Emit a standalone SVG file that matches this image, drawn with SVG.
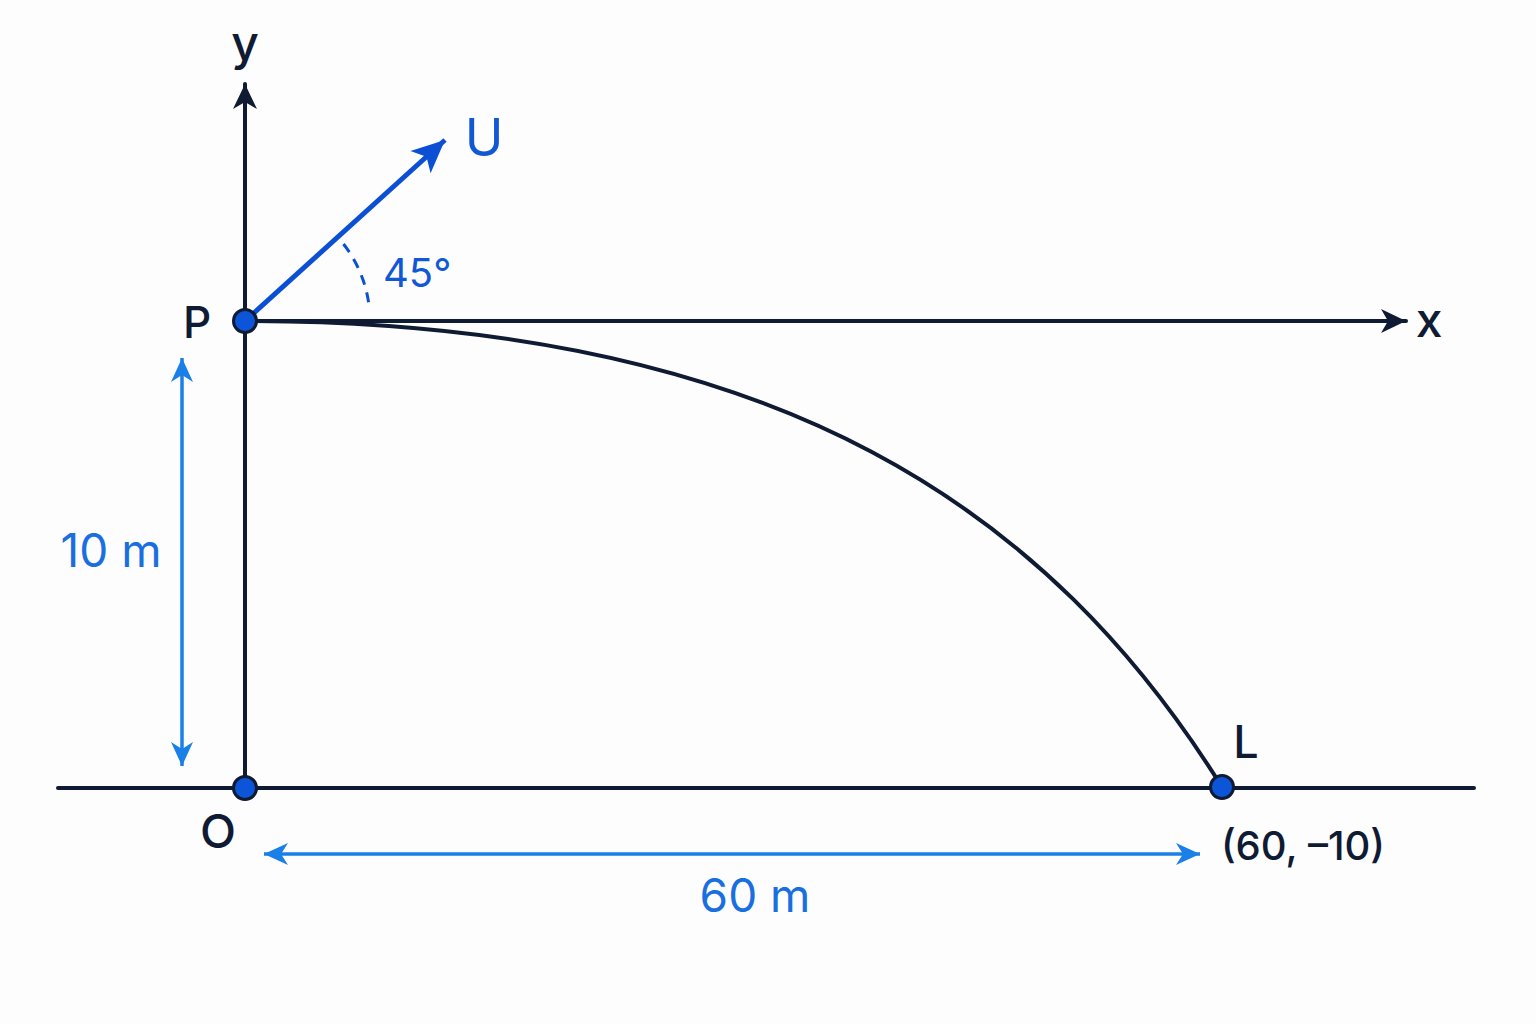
<svg xmlns="http://www.w3.org/2000/svg" width="1536" height="1024" viewBox="0 0 1536 1024">
<style>
.ax{stroke:#0f1a33;stroke-width:4;fill:none;stroke-linecap:round}
.dim{stroke:#1a7fe6;stroke-width:3.5;fill:none}
.vec{stroke:#0b50d4;stroke-width:5;fill:none}
.dot{fill:#0d55d8;stroke:#0f1a33;stroke-width:3}
.t{font-family:"Inter","Liberation Sans",sans-serif;fill:#0f1a33;font-weight:500}
.tb{font-family:"Inter","Liberation Sans",sans-serif;fill:#1058d6}
.td{font-family:"Inter","Liberation Sans",sans-serif;fill:#1a6fe0}
</style>
<defs>
<marker id="ahDark" markerUnits="userSpaceOnUse" viewBox="-26 -13 28 26" refX="0" refY="0" markerWidth="28" markerHeight="26" orient="auto">
<path d="M0,0 L-25,-12 L-18,0 L-25,12 Z" fill="#0f1a33"/>
</marker>
<marker id="ahVec" markerUnits="userSpaceOnUse" viewBox="-34 -16 36 32" refX="0" refY="0" markerWidth="36" markerHeight="32" orient="auto">
<path d="M0,0 L-33,-15 L-25,0 L-33,15 Z" fill="#0b50d4"/>
</marker>
<marker id="ahDim" markerUnits="userSpaceOnUse" viewBox="-26 -13 28 26" refX="0" refY="0" markerWidth="28" markerHeight="26" orient="auto-start-reverse">
<path d="M0,0 L-24,-11 L-17,0 L-24,11 Z" fill="#1a7fe6"/>
</marker>
</defs>
<rect width="1536" height="1024" fill="#fdfdfe"/>
<g id="connectors">
<line class="ax" x1="58" y1="788" x2="1474" y2="788"/>
<line class="ax" x1="245" y1="788" x2="245" y2="84" marker-end="url(#ahDark)"/>
<line class="ax" x1="245" y1="321" x2="1406" y2="321" marker-end="url(#ahDark)"/>
<path class="ax" d="M245,321 C784,321 1052,515 1222,787"/>
<line class="vec" x1="245" y1="321" x2="445" y2="140" marker-end="url(#ahVec)"/>
<path d="M343.5,244 A125,125 0 0,1 369.5,310" fill="none" stroke="#0b50d4" stroke-width="3" stroke-dasharray="10,8"/>
<line class="dim" x1="182" y1="358" x2="182" y2="766" marker-start="url(#ahDim)" marker-end="url(#ahDim)"/>
<line class="dim" x1="264" y1="854" x2="1200" y2="854" marker-start="url(#ahDim)" marker-end="url(#ahDim)"/>
</g>
<g id="node-P"><circle class="dot" cx="245" cy="321" r="11.5"/><text class="t" x="197" y="338" font-size="44" text-anchor="middle">P</text></g>
<g id="node-O"><circle class="dot" cx="245" cy="788" r="11.5"/><text class="t" x="218" y="848" font-size="47" text-anchor="middle">O</text></g>
<g id="node-L"><circle class="dot" cx="1222" cy="787" r="11.5"/><text class="t" x="1246" y="758" font-size="45" text-anchor="middle">L</text><text class="t" x="1303" y="860" font-size="40" text-anchor="middle">(60, –10)</text></g>
<g id="labels">
<text class="t" x="245" y="60" font-size="48" text-anchor="middle">y</text>
<text class="t" x="1429" y="337" font-size="48" text-anchor="middle">x</text>
<text class="tb" x="484" y="156" font-size="52" text-anchor="middle">U</text>
<text class="tb" x="383" y="287" font-size="40">45°</text>
<text class="td" x="111" y="567" font-size="46" text-anchor="middle">10 m</text>
<text class="td" x="755" y="912" font-size="46" text-anchor="middle">60 m</text>
</g>
</svg>
